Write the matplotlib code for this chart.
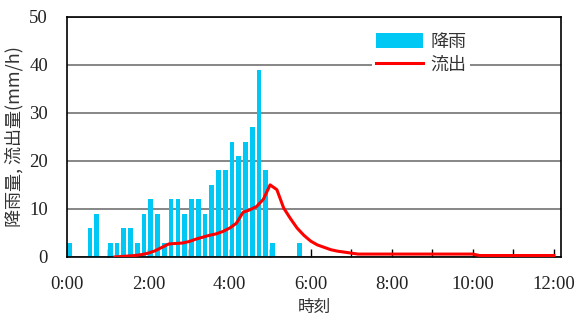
import matplotlib
matplotlib.use("Agg")
import matplotlib.pyplot as plt
import numpy as np

# 10-minute rainfall (mm/h), interval start = index * 10 min
rain = [3, 0, 0, 6, 9, 0, 3, 3, 6, 6, 3, 9, 12, 9, 3, 12, 12, 9, 12, 12,
        9, 15, 18, 18, 24, 21, 24, 27, 39, 18, 3, 0, 0, 0, 3]
# runoff (mm/h) every 10 min, starting at 1:10 and ending at 12:00
runoff_start = 7
runoff = [0, 0.1, 0.2, 0.3, 0.5, 0.8, 1.3, 2.0, 2.7,
          2.8, 2.9, 3.2, 3.7, 4.1, 4.5, 4.8, 5.3, 6.0, 7.0, 9.3, 9.8, 10.5,
          12.0, 15.0, 14.0, 10.2, 8.0, 6.0, 4.5, 3.3, 2.5, 2.0, 1.5, 1.2,
          1.0, 0.8, 0.6, 0.6, 0.6, 0.6, 0.6, 0.6, 0.6, 0.6, 0.6, 0.6, 0.6,
          0.6, 0.6, 0.6, 0.6, 0.6, 0.6, 0.6, 0.3, 0.3, 0.3, 0.3, 0.3, 0.3,
          0.3, 0.3, 0.3, 0.3, 0.3, 0.3]
tick_labels = ["0:00", "2:00", "4:00", "6:00", "8:00", "10:00", "12:00"]

serif = ["Liberation Serif", "DejaVu Serif"]
jp = ["Noto Sans CJK JP", "DejaVu Sans"]

fig = plt.figure(figsize=(5.81, 3.2), dpi=100)
ax = fig.add_axes([0.116, 0.197, 0.849, 0.751])

t_rain = np.arange(len(rain)) / 6.0
bars = ax.bar(t_rain, rain, width=0.7 / 6, align="edge", color="#00C8F5",
              label="降雨", zorder=2)
t_run = (runoff_start + np.arange(len(runoff))) / 6.0
line, = ax.plot(t_run, runoff, color="#FF0000", lw=2.2, label="流出", zorder=3)

ax.set_xlim(0, 73 / 6.0)
ax.set_ylim(0, 50)
ax.set_yticks([0, 10, 20, 30, 40, 50])
ax.set_xticks(np.arange(0, 13, 2))
ax.set_xticklabels(tick_labels)
ax.set_xticks(np.arange(0, 13, 1), minor=True)
ax.tick_params(axis="x", which="both", direction="in", length=6, width=1,
               pad=14, top=False)
ax.tick_params(axis="y", length=0, pad=14)
for lab in ax.get_xticklabels() + ax.get_yticklabels():
    lab.set_family(serif)
    lab.set_fontsize(13.5)
    lab.set_color("#222222")

ax.yaxis.grid(True, color="#666666", lw=1.1, zorder=1)
ax.set_axisbelow(True)
for s in ax.spines.values():
    s.set_color("black")
    s.set_linewidth(1.2)

ax.set_ylabel("降雨量, 流出量(mm/h)", family=jp, fontsize=13, color="#333333",
              labelpad=4)
ax.set_xlabel("時刻", family=jp, fontsize=12, color="#333333", labelpad=4)

leg = ax.legend([bars, line], ["降雨", "流出"], loc="upper left",
                bbox_to_anchor=(0.6, 0.985), frameon=True,
                prop={"family": jp, "size": 13}, handlelength=2.6,
                handleheight=0.9, handletextpad=0.4, labelspacing=0.25,
                borderpad=0.2, fancybox=False)
leg.get_frame().set_edgecolor("none")
leg.get_frame().set_facecolor("white")
leg.get_frame().set_alpha(1)
for txt in leg.get_texts():
    txt.set_color("#333333")

fig.savefig("out.png", dpi=100)
